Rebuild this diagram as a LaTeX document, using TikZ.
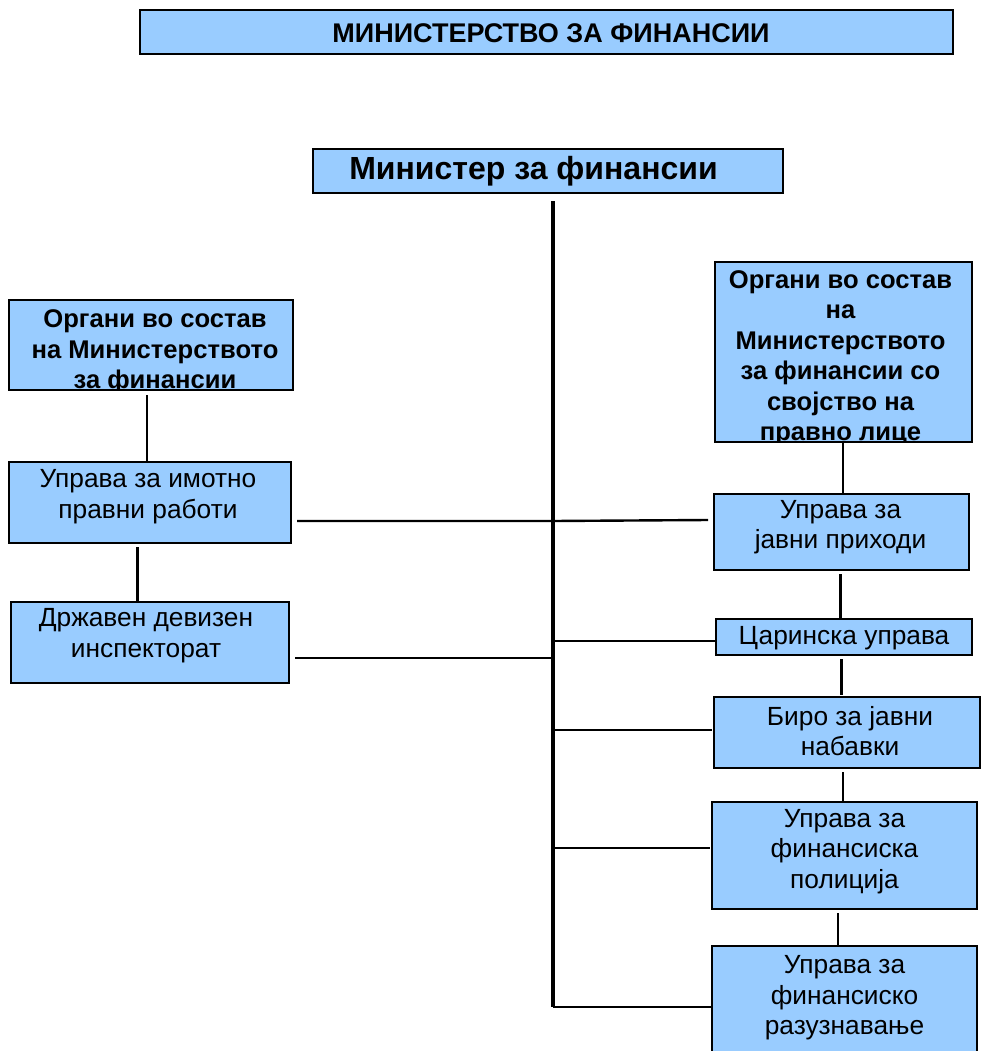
\documentclass[tikz,border=0pt]{standalone}
\usepackage{fontspec}
\setmainfont{Liberation Sans}
\definecolor{boxblue}{RGB}{153,204,255}
\tikzset{
  x=1pt, y=-1pt,
  box/.style={draw=black, fill=boxblue, line width=2.4pt, inner sep=0pt, outer sep=0pt},
  txt/.style={align=center, inner sep=0pt, font=\fontsize{26.3}{30.5}\selectfont},
  btxt/.style={align=center, inner sep=0pt, font=\fontsize{25.6}{30.5}\selectfont\bfseries},
  conn/.style={draw=black, line width=2.4pt},
  trunk/.style={draw=black, line width=3.4pt},
}
\begin{document}
\begin{tikzpicture}
\useasboundingbox[fill=white] (0,0) rectangle (980,1051);

% title
\node[box, minimum width=813, minimum height=44,
  path picture={\node[btxt, font=\fontsize{27}{30}\selectfont\bfseries] (ttitle) at ([xshift=4.5pt,yshift=-1pt]path picture bounding box.center) {МИНИСТЕРСТВО ЗА ФИНАНСИИ};}]
  (title) at (546.5,32) {};

% minister
\node[box, minimum width=470, minimum height=44,
  path picture={\node[btxt, font=\fontsize{32}{36}\selectfont\bfseries] (tmin) at ([xshift=-14.5pt,yshift=0pt]path picture bounding box.center) {Министер за финансии};}]
  (min) at (548,171) {};

% left column
\node[box, minimum width=284, minimum height=90,
  path picture={\node[btxt] (tl1) at ([xshift=4pt,yshift=-7pt]path picture bounding box.center) {Органи во состав\\на Министерството\\за финансии};}]
  (l1) at (151,345) {};
\node[box, minimum width=282, minimum height=81,
  path picture={\node[txt] (tl2) at ([xshift=-2pt,yshift=6pt]path picture bounding box.center) {Управа за имотно\\правни работи};}]
  (l2) at (150,502.5) {};
\node[box, minimum width=278, minimum height=81,
  path picture={\node[txt] (tl3) at ([xshift=-4pt,yshift=7pt]path picture bounding box.center) {Државен девизен\\инспекторат};}]
  (l3) at (150,642.5) {};

% right column
\node[box, minimum width=257, minimum height=180,
  path picture={\node[btxt] (tr1) at ([xshift=-3pt,yshift=-6pt]path picture bounding box.center) {Органи во состав\\на\\Министерството\\за финансии со\\својство на\\правно лице};}]
  (r1) at (843.5,352) {};
\node[box, minimum width=255, minimum height=76,
  path picture={\node[txt] (tr2) at ([xshift=-1pt,yshift=5pt]path picture bounding box.center) {Управа за\\јавни приходи};}]
  (r2) at (841.5,532) {};
\node[box, minimum width=256, minimum height=36,
  path picture={\node[txt] (tr3) at ([xshift=0pt,yshift=-1pt]path picture bounding box.center) {Царинска управа};}]
  (r3) at (844,637) {};
\node[box, minimum width=266, minimum height=71,
  path picture={\node[txt] (tr4) at ([xshift=3pt,yshift=1.5pt]path picture bounding box.center) {Биро за јавни\\набавки};}]
  (r4) at (847,732.5) {};
\node[box, minimum width=265, minimum height=107,
  path picture={\node[txt] (tr5) at ([xshift=0pt,yshift=4pt]path picture bounding box.center) {Управа за\\финансиска\\полиција};}]
  (r5) at (844.5,855.5) {};
\node[box, minimum width=265, minimum height=114,
  path picture={\node[txt] (tr6) at ([xshift=0pt,yshift=5pt]path picture bounding box.center) {Управа за\\финансиско\\разузнавање};}]
  (r6) at (844.5,1003) {};

% trunk
\coordinate (tbot) at (553,1007);
\coordinate (ttop) at (553,201);
\draw[trunk] (ttop) -- (tbot);

% left connectors
\draw[conn] ([xshift=-4pt,yshift=-5pt]l1.south) -- ([xshift=-4pt]l1.south |- l2.north);
\draw[conn, line width=3pt] ([xshift=-13pt,yshift=-4pt]l2.south) -- ([xshift=-13pt]l2.south |- l3.north);
\draw[conn] ([xshift=6pt]l2.east |- 0,521) -- (553,521) -- ([xshift=-6pt]r2.west |- 0,520);
\draw[conn] ([xshift=6pt]l3.east |- 0,658) -- (553,658);

% right vertical connectors
\draw[conn] (r1.south -| 843,0) -- (r2.north -| 843,0);
\draw[conn, line width=3pt] ([yshift=-4pt]r2.south -| 840,0) -- ([yshift=1pt]r3.north -| 840,0);
\draw[conn, line width=3pt] ([yshift=-4pt]r3.south -| 841,0) -- ([yshift=2pt]r4.north -| 841,0);
\draw[conn] ([yshift=-4pt]r4.south -| 843,0) -- (r5.north -| 843,0);
\draw[conn] ([yshift=-4pt]r5.south -| 838,0) -- ([yshift=1pt]r6.north -| 838,0);

% trunk to right boxes
\draw[conn] (553,641) -- (r3.west |- 0,641);
\draw[conn] (553,730) -- ([xshift=-2pt]r4.west |- 0,730);
\draw[conn] (553,848) -- ([xshift=-2pt]r5.west |- 0,848);
\draw[conn] (tbot) -- (r6.west |- tbot);
\end{tikzpicture}
\end{document}
